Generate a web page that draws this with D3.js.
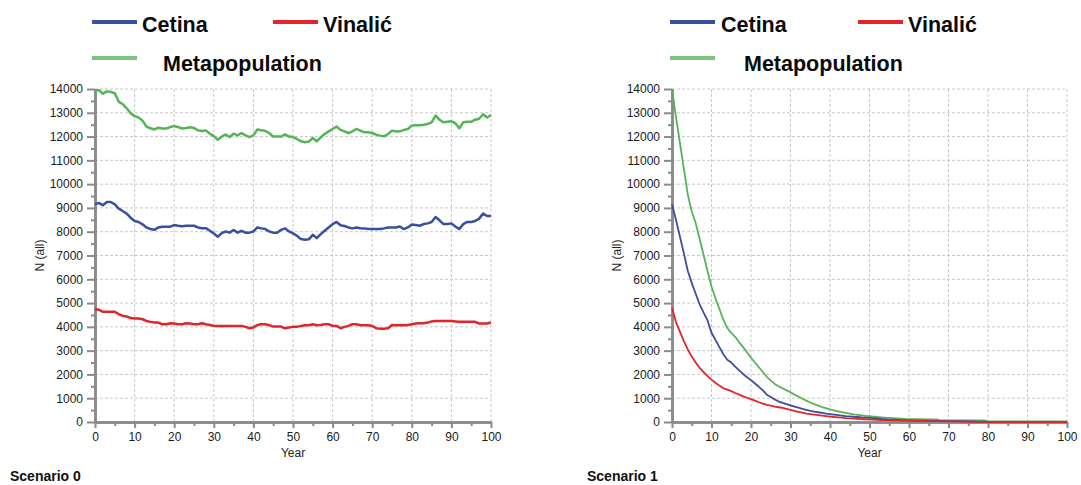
<!DOCTYPE html>
<html>
<head>
<meta charset="utf-8">
<script src="https://cdn.jsdelivr.net/npm/d3@7"></script>
<style>
  body { margin: 0; background: #fff; }
  svg { font-family: "Liberation Sans", Arial, sans-serif; }
</style>
</head>
<body>
<div id="vizArea"></div>
<script>
// DATA
var years = d3.range(0, 101);
var yearTicks = [0, 10, 20, 30, 40, 50, 60, 70, 80, 90, 100];
var nTicks = [0, 1000, 2000, 3000, 4000, 5000, 6000, 7000, 8000, 9000, 10000, 11000, 12000, 13000, 14000];
var seriesNames = ["Cetina", "Vinalić", "Metapopulation"];
var scenarioNames = ["Scenario 0", "Scenario 1"];

var s0Meta = [13950,13950,13800,13900,13880,13820,13470,13360,13190,12980,
  12860,12800,12670,12420,12350,12300,12370,12340,12340,12400,
  12440,12400,12340,12360,12390,12360,12260,12230,12260,12120,
  12020,11860,12000,12090,11980,12120,12050,12150,12050,11980,
  12050,12300,12270,12240,12150,12000,12000,12000,12090,12000,
  11980,11900,11800,11760,11790,11940,11800,11970,12110,12220,
  12320,12420,12280,12220,12140,12220,12320,12250,12180,12180,
  12150,12080,12040,12010,12110,12250,12210,12220,12280,12320,
  12460,12480,12480,12500,12530,12600,12880,12710,12600,12620,
  12640,12560,12350,12600,12620,12620,12710,12750,12940,12800,12910];

var s0Cetina = [9150,9210,9110,9250,9250,9150,8970,8870,8760,8590,
  8450,8410,8310,8180,8110,8080,8180,8210,8210,8210,
  8280,8250,8230,8250,8250,8250,8180,8150,8150,8040,
  7930,7790,7940,8010,7960,8070,7960,8040,7960,7960,
  8010,8180,8140,8110,8010,7960,7960,8080,8140,8010,
  7930,7830,7690,7660,7680,7870,7730,7900,8040,8180,
  8320,8410,8270,8240,8180,8140,8180,8150,8140,8110,
  8110,8110,8110,8140,8180,8180,8180,8220,8110,8180,
  8300,8280,8250,8320,8350,8410,8620,8480,8320,8320,
  8350,8220,8110,8320,8410,8410,8450,8550,8760,8660,8660];

var s0Vinalic = [4750,4720,4630,4630,4630,4630,4540,4460,4440,4370,
  4350,4350,4320,4250,4210,4180,4180,4110,4110,4150,
  4140,4110,4110,4150,4140,4110,4110,4150,4110,4080,
  4040,4040,4040,4040,4040,4040,4040,4040,4000,3940,
  3970,4080,4110,4110,4070,4010,4010,4010,3940,3970,
  4000,4000,4040,4070,4070,4110,4070,4080,4110,4110,
  4040,4040,3940,4000,4040,4110,4110,4070,4070,4070,
  4040,3940,3920,3920,3940,4080,4070,4070,4070,4080,
  4110,4140,4150,4150,4180,4230,4250,4250,4250,4250,
  4250,4230,4210,4210,4210,4210,4210,4140,4140,4140,4180];

var s1Meta = [14000,12830,11740,10650,9560,8850,8360,7690,7020,6350,
  5700,5200,4750,4300,3950,3750,3580,3350,3150,2920,
  2700,2500,2300,2100,1900,1750,1600,1500,1420,1330,
  1250,1150,1070,980,900,820,750,690,630,580,
  530,490,450,410,380,350,320,300,280,260,
  250,230,210,195,180,170,160,150,140,130,
  125,120,115,115,110,110,110,110,70,70,
  70,70,70,70,70,70,70,70,70,70,
  30,30,30,30,30,30,30,30,30,30,
  20,20,20,20,20,20,20,20,20,20,20];

var s1Cetina = [9150,8500,7800,7100,6350,5850,5390,4950,4600,4270,
  3750,3450,3150,2850,2620,2500,2330,2170,2020,1880,
  1760,1620,1480,1330,1150,1050,950,860,800,750,
  700,650,600,550,510,470,440,410,380,350,
  330,310,290,270,250,240,220,210,190,180,
  170,160,150,130,115,100,95,90,80,75,
  70,65,60,60,55,55,50,50,45,45,
  40,40,40,35,30,25,20,15,10,10,
  5,5,5,5,5,5,5,5,5,5,
  5,5,5,5,5,5,5,5,5,5,5];

var s1Vinalic = [4800,4200,3800,3400,3050,2750,2500,2280,2100,1930,
  1780,1650,1530,1420,1360,1300,1220,1150,1080,1020,
  960,900,830,770,720,690,650,620,590,550,
  510,470,430,390,350,330,310,290,270,250,
  230,210,195,180,165,155,145,135,125,115,
  110,100,95,85,80,75,70,65,60,58,
  55,50,48,45,42,40,38,35,33,30,
  30,28,25,20,15,10,10,8,5,5,
  0,0,0,0,0,0,0,0,0,0,
  0,0,0,0,0,0,0,0,0,0,0];

// COLOURS
var blue = "#3a4f9f", red = "#e2252b", green = "#55b455", legendGreen = "#7dc27d";
var axisGrey = "#8a8a8a";

var canvas = d3.select("#vizArea")
  .append("svg")
    .attr("width", 1081)
    .attr("height", 485);

canvas.append("rect")
  .attr("width", 1081)
  .attr("height", 485)
  .attr("fill", "#fff");

var panels = [
  { x0: 95, x1: 491, left: 0, lineW: 2.5, name: scenarioNames[0],
    series: [s0Meta, s0Cetina, s0Vinalic],
    leg: { line1: 92, text1: 142, line2: 273, text2: 323, text3: 163 } },
  { x0: 672, x1: 1067, left: 577, lineW: 1.8, name: scenarioNames[1],
    series: [s1Meta, s1Cetina, s1Vinalic],
    leg: { line1: 670, text1: 721, line2: 858, text2: 908, text3: 744 } }
];

var yTop = 89, yBottom = 422;

function drawPanel(p) {
  var x = d3.scaleLinear().domain([0, 100]).range([p.x0, p.x1]);
  var y = d3.scaleLinear().domain([0, 14000]).range([yBottom, yTop]);
  var g = canvas.append("g");

  // GRID
  g.append("g").selectAll("line")
    .data(yearTicks.slice(1))
    .enter().append("line")
      .attr("x1", d => x(d)).attr("x2", d => x(d))
      .attr("y1", yTop).attr("y2", yBottom)
      .attr("stroke", "#c8c8c8").attr("stroke-dasharray", "3,2");
  g.append("g").selectAll("line")
    .data(nTicks.slice(1))
    .enter().append("line")
      .attr("x1", p.x0).attr("x2", p.x1)
      .attr("y1", d => y(d)).attr("y2", d => y(d))
      .attr("stroke", "#c8c8c8").attr("stroke-dasharray", "3,2");

  // AXES
  var minorYears = d3.range(5, 100, 10);
  var minorN = d3.range(500, 14000, 1000);
  var xMinor = g.append("g").attr("transform", "translate(0," + yBottom + ")")
    .call(d3.axisBottom(x).tickValues(minorYears).tickSize(4).tickSizeOuter(0).tickFormat(""));
  var xAxis = g.append("g").attr("transform", "translate(0," + yBottom + ")")
    .call(d3.axisBottom(x).tickValues(yearTicks).tickSize(6).tickSizeOuter(0).tickPadding(4));
  var yMinor = g.append("g").attr("transform", "translate(" + p.x0 + ",0)")
    .call(d3.axisLeft(y).tickValues(minorN).tickSize(4).tickSizeOuter(0).tickFormat(""));
  var yAxis = g.append("g").attr("transform", "translate(" + p.x0 + ",0)")
    .call(d3.axisLeft(y).tickValues(nTicks).tickSize(8).tickSizeOuter(0).tickPadding(4).tickFormat(d3.format("d")));

  [xMinor, xAxis, yMinor, yAxis].forEach(function (a) {
    a.select(".domain").attr("stroke", axisGrey).attr("stroke-width", 2.5);
    a.selectAll(".tick line").attr("stroke", axisGrey).attr("stroke-width", 2);
    a.selectAll(".tick text").attr("fill", "#1a1a1a").style("font-size", "12px");
  });

  g.append("text")
    .attr("x", (p.x0 + p.x1) / 2).attr("y", 457)
    .attr("text-anchor", "middle").style("font-size", "12px").attr("fill", "#222")
    .text("Year");
  g.append("text")
    .attr("transform", "translate(" + (p.left + 44) + "," + ((yTop + yBottom) / 2) + ") rotate(-90)")
    .attr("text-anchor", "middle").style("font-size", "12px").attr("fill", "#222")
    .text("N (all)");
  g.append("text")
    .attr("x", p.left + 10).attr("y", 481)
    .style("font-size", "14px").style("font-weight", "bold").attr("fill", "#111")
    .text(p.name);

  // LINES
  var line = d3.line().x((d, i) => x(years[i])).y(d => y(d));
  var colors = [green, blue, red];
  p.series.forEach(function (s, i) {
    g.append("path").datum(s)
      .attr("d", line)
      .attr("fill", "none")
      .attr("stroke", colors[i])
      .attr("stroke-width", p.lineW)
      .attr("stroke-linejoin", "round");
  });

  // LEGEND
  var lg = p.leg;
  var legItems = [
    { lx: lg.line1, tx: lg.text1, ly: 22, ty: 32, c: blue, t: seriesNames[0] },
    { lx: lg.line2, tx: lg.text2, ly: 22, ty: 32, c: red, t: seriesNames[1] },
    { lx: lg.line1, tx: lg.text3, ly: 58, ty: 71, c: legendGreen, t: seriesNames[2] }
  ];
  legItems.forEach(function (d) {
    g.append("line")
      .attr("x1", d.lx).attr("x2", d.lx + 45)
      .attr("y1", d.ly).attr("y2", d.ly)
      .attr("stroke", d.c).attr("stroke-width", 4);
    g.append("text")
      .attr("x", d.tx).attr("y", d.ty)
      .style("font-size", "21.5px").style("font-weight", "bold").attr("fill", "#0a0a0a")
      .text(d.t);
  });
}

panels.forEach(drawPanel);
</script>
</body>
</html>
